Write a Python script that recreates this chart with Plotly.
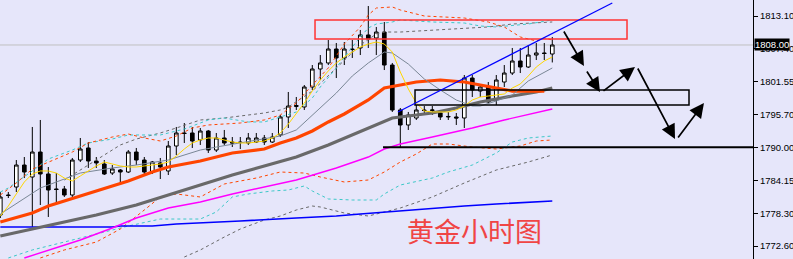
import plotly.graph_objects as go

# ---------------- candle data (hourly gold) ----------------
opens = [1778.06, 1781.58, 1782.99, 1786.86, 1784.75, 1789.15, 1785.28, 1782.64, 1782.64, 1781.58,
         1787.74, 1789.86, 1787.57, 1787.04, 1785.45, 1785.98, 1785.63, 1789.15, 1787.74, 1785.63,
         1787.22, 1785.81, 1790.21, 1792.50, 1792.50, 1791.27, 1792.85, 1789.50, 1791.62, 1790.91,
         1790.91, 1790.74, 1790.91, 1791.62, 1790.91, 1792.15, 1795.32, 1797.16, 1797.08, 1800.60,
         1803.77, 1804.83, 1807.29, 1805.71, 1807.29, 1807.47, 1809.76, 1809.23, 1810.28, 1804.47,
         1796.55, 1793.91, 1795.14, 1796.55, 1796.46, 1796.02, 1795.32, 1795.32, 1795.14, 1802.18,
         1799.89, 1800.60, 1798.31, 1801.48, 1803.06, 1805.18, 1804.12, 1806.23, 1806.59, 1806.41]
highs = [1782.11, 1782.11, 1787.74, 1788.27, 1793.56, 1794.79, 1786.51, 1785.45, 1783.17, 1788.10,
         1791.62, 1790.91, 1788.27, 1787.74, 1786.86, 1786.16, 1789.50, 1789.86, 1788.27, 1787.57,
         1788.10, 1791.09, 1793.56, 1794.26, 1793.56, 1793.38, 1793.03, 1792.50, 1793.03, 1791.79,
         1791.79, 1792.50, 1792.50, 1792.15, 1792.50, 1795.67, 1799.72, 1798.84, 1800.95, 1804.47,
         1806.23, 1808.88, 1808.35, 1808.52, 1808.88, 1810.64, 1814.86, 1811.17, 1812.05, 1804.83,
         1796.90, 1796.20, 1797.43, 1797.25, 1797.25, 1796.55, 1796.20, 1796.02, 1802.71, 1802.71,
         1800.95, 1801.48, 1802.71, 1804.47, 1807.47, 1807.47, 1807.99, 1808.35, 1808.35, 1809.41]
lows = [1777.53, 1781.05, 1782.11, 1784.57, 1775.95, 1779.82, 1777.71, 1780.17, 1781.23, 1781.23,
        1787.39, 1786.34, 1786.34, 1785.10, 1785.10, 1783.87, 1785.45, 1786.86, 1784.93, 1785.28,
        1784.40, 1785.10, 1788.62, 1790.74, 1789.86, 1790.39, 1788.98, 1789.15, 1790.39, 1790.03,
        1789.68, 1790.39, 1790.74, 1790.39, 1790.74, 1791.79, 1793.38, 1796.55, 1796.55, 1800.07,
        1801.83, 1804.47, 1802.18, 1804.47, 1805.71, 1806.23, 1807.47, 1806.23, 1803.59, 1796.20,
        1790.03, 1793.03, 1794.79, 1795.67, 1795.67, 1794.79, 1794.79, 1793.91, 1793.38, 1798.84,
        1798.84, 1797.78, 1797.43, 1800.60, 1802.71, 1803.06, 1803.95, 1805.35, 1805.35, 1804.92]
closes = [1781.23, 1781.50, 1786.86, 1785.63, 1789.15, 1785.28, 1782.46, 1782.55, 1781.58, 1787.74,
          1789.68, 1787.57, 1787.22, 1785.28, 1786.16, 1785.63, 1789.15, 1787.74, 1785.63, 1787.39,
          1786.51, 1790.21, 1792.50, 1792.41, 1791.09, 1792.85, 1789.50, 1791.62, 1790.74, 1790.74,
          1790.82, 1791.62, 1791.62, 1790.91, 1791.79, 1795.32, 1797.25, 1797.34, 1800.60, 1803.77,
          1804.83, 1807.29, 1805.71, 1807.29, 1807.20, 1809.76, 1809.05, 1810.28, 1804.47, 1796.55,
          1793.91, 1795.67, 1796.55, 1796.46, 1796.55, 1795.32, 1795.41, 1795.14, 1802.18, 1800.07,
          1800.60, 1797.96, 1801.83, 1803.06, 1805.18, 1804.12, 1806.23, 1806.59, 1806.50, 1808.00]
bars = list(range(len(closes)))

# ---------------- indicator lines ----------------
yellow_ma = [1777.88, 1779.64, 1781.76, 1783.87, 1785.28, 1785.81, 1785.81, 1785.45, 1784.57, 1784.05,
             1784.93, 1785.81, 1786.69, 1787.39, 1787.04, 1786.69, 1786.51, 1786.51, 1786.69, 1786.86,
             1787.04, 1787.39, 1788.45, 1789.68, 1790.74, 1791.27, 1791.62, 1791.62, 1791.27, 1790.91,
             1790.74, 1790.74, 1790.91, 1791.09, 1791.62, 1792.50, 1794.08, 1795.85, 1797.78, 1799.89,
             1801.83, 1803.42, 1804.83, 1805.88, 1806.76, 1807.64, 1808.17, 1808.52, 1808.17, 1806.76,
             1803.24, 1800.25, 1797.78, 1796.37, 1796.20, 1796.20, 1796.20, 1796.55, 1797.25, 1798.31,
             1798.84, 1799.01, 1799.19, 1799.37, 1800.42, 1801.13, 1802.54, 1804.12, 1805.18, 1805.88]

gray_ma_idx = [0, 3, 5, 8, 10, 14, 17, 21, 25, 27, 30, 33, 35, 37, 40, 42, 44, 46, 48, 49, 51, 53, 55,
               57, 59, 60, 62, 64, 66, 69]
gray_ma = [1778.23, 1781.05, 1782.81, 1784.40, 1785.45, 1786.34, 1786.86, 1787.74, 1789.50, 1790.03,
           1790.74, 1791.44, 1791.97, 1793.03, 1796.90, 1799.54, 1802.54, 1804.83, 1806.76, 1806.59,
           1804.65, 1802.01, 1800.07, 1798.31, 1797.25, 1797.25, 1798.14, 1799.19, 1801.66, 1803.95]

orange_ma_idx = [0, 4, 6, 8, 11, 14, 16, 19, 21, 25, 29, 33, 35, 37, 39, 41, 43, 46, 48, 50, 52, 55,
                 58, 60, 62, 64, 68]
orange_ma = [1776.83, 1778.41, 1779.64, 1780.52, 1781.76, 1783.17, 1784.05, 1785.63, 1786.51, 1787.57,
             1788.98, 1789.68, 1790.74, 1791.62, 1792.85, 1794.44, 1795.85, 1798.31, 1800.42, 1800.95,
             1801.48, 1801.83, 1801.48, 1800.95, 1800.42, 1799.89, 1799.89]

dgray_ma_idx = [0, 4, 8, 12, 17, 21, 25, 29, 33, 37, 41, 46, 49, 52, 54, 57, 60, 64, 67, 69]
dgray_ma = [1774.36, 1775.59, 1776.83, 1778.06, 1779.82, 1781.58, 1783.34, 1785.10, 1786.69, 1788.27,
            1790.39, 1793.38, 1795.14, 1795.67, 1796.02, 1796.90, 1797.96, 1799.01, 1799.72, 1800.42]

magenta_ma_idx = [3, 6, 10, 14, 17, 21, 25, 29, 33, 37, 42, 46, 48, 50, 54, 59, 63, 69]
magenta_ma = [1770.49, 1771.90, 1773.66, 1775.77, 1777.53, 1779.29, 1780.35, 1781.76, 1782.99, 1784.22,
              1786.34, 1788.27, 1789.68, 1790.56, 1791.79, 1793.38, 1794.79, 1796.73]

blue_ma_idx = [0, 14, 15, 19, 22, 25, 30, 37, 42, 45, 50, 54, 58, 62, 66, 69]
blue_ma = [1775.94, 1775.94, 1776.12, 1776.12, 1776.47, 1776.65, 1777.00, 1777.53, 1777.88, 1778.23,
           1778.76, 1779.29, 1779.64, 1779.99, 1780.35, 1780.52]

orange_up_idx = [0, 2, 4, 6, 9, 11, 14, 16, 18, 20, 22, 24, 26, 30, 33, 35, 37, 39, 41, 43, 45, 46, 47,
                 49, 50, 53, 58, 61, 63, 65, 67, 68, 69]
orange_up = [1781.58, 1783.69, 1786.16, 1787.39, 1789.15, 1790.74, 1791.79, 1792.32, 1791.62, 1791.09,
             1791.97, 1793.38, 1793.91, 1794.26, 1794.79, 1795.67, 1797.78, 1800.95, 1803.95, 1808.17,
             1811.17, 1813.28, 1814.51, 1814.69, 1814.16, 1813.10, 1812.75, 1812.05, 1811.17, 1809.41,
             1808.70, 1809.23, 1808.88]

orange_dn_idx = [5, 8, 12, 15, 18, 20, 22, 25, 28, 32, 35, 38, 40, 43, 46, 48, 50, 52, 54, 56, 59, 62,
                 65, 67, 69]
orange_dn = [1770.49, 1771.90, 1773.30, 1775.59, 1778.94, 1781.23, 1781.76, 1781.23, 1783.52, 1784.57,
             1785.63, 1785.45, 1784.75, 1783.87, 1784.22, 1785.63, 1787.39, 1788.80, 1790.56, 1790.56,
             1790.03, 1789.68, 1790.21, 1791.09, 1791.27]

cyan_up_idx = [0, 1, 4, 6, 9, 11, 14, 16, 20, 23, 26, 28, 31, 33, 35, 37, 39, 40, 42, 43, 45, 46, 47,
               49, 50, 54, 58, 60, 62, 66, 69]
cyan_up = [1782.11, 1782.81, 1785.81, 1787.92, 1789.50, 1790.74, 1791.44, 1792.15, 1792.15, 1793.20,
           1794.79, 1795.14, 1794.44, 1794.44, 1795.32, 1796.20, 1798.66, 1800.60, 1803.95, 1805.88,
           1809.41, 1810.99, 1811.69, 1812.05, 1812.40, 1812.05, 1811.87, 1811.34, 1811.17, 1811.69,
           1812.40]

cyan_dn_idx = [1, 4, 8, 12, 16, 20, 25, 27, 29, 31, 34, 36, 38, 39, 41, 44, 47, 48, 50, 54, 56, 59,
               62, 64, 66, 69]
cyan_dn = [1770.49, 1771.90, 1773.30, 1774.71, 1776.12, 1777.35, 1777.35, 1778.59, 1781.23, 1781.76,
           1782.29, 1782.46, 1783.17, 1782.29, 1780.88, 1780.70, 1780.70, 1781.76, 1783.34, 1784.57,
           1785.63, 1786.86, 1788.98, 1790.91, 1791.62, 1791.97]

gray_up_idx = [8, 10, 12, 15, 17, 20, 22, 25, 28, 31, 33, 35, 36, 39, 42, 45, 47, 48, 50, 54, 58, 61,
               64, 67, 69]
gray_up = [1784.22, 1785.98, 1787.74, 1790.39, 1791.44, 1792.50, 1793.38, 1794.79, 1795.14, 1795.67,
           1796.02, 1796.55, 1797.08, 1799.89, 1803.95, 1807.99, 1809.93, 1810.28, 1810.28, 1810.64,
           1810.99, 1811.17, 1811.69, 1811.87, 1812.05]

gray_dn_idx = [23, 25, 28, 30, 33, 35, 37, 39, 40, 42, 43, 46, 48, 50, 54, 58, 62, 66, 69]
gray_dn = [1770.66, 1771.90, 1774.18, 1775.59, 1777.18, 1777.88, 1778.94, 1779.64, 1779.47, 1778.76,
           1778.41, 1777.88, 1778.59, 1779.29, 1781.23, 1783.69, 1785.98, 1787.39, 1788.63]

# axis labels
tick_vals = [1813.10, 1807.40, 1801.55, 1795.70, 1790.00, 1784.15, 1778.30, 1772.60]
tick_text = ["1813.10", "1807.40", "1801.55", "1795.70", "1790.00", "1784.15", "1778.30", "1772.60"]
last_price = 1808.00
support_level = 1790.00
title_text = "黄金小时图"

# analyst drawings (in bar-index / price units)
red_box = (39.34, 78.34, 1809.05, 1812.40)
black_box = (51.84, 86.09, 1797.43, 1800.07)
trend_line = ((49.7, 1796.20), (76.5, 1815.39))
support_start = 47.84
arrow_path = [((70.34, 1810.64), (72.96, 1804.30)),
              ((73.21, 1803.59), (74.96, 1799.72)),
              ((75.21, 1799.72), (79.34, 1804.12)),
              ((79.59, 1804.12), (84.34, 1791.44)),
              ((84.59, 1791.44), (87.96, 1797.78))]

BG = "#E6E6FA"
X_RANGE = [-0.04, 94.09]
Y_RANGE = [1770.31, 1815.92]

fig = go.Figure()


def add_line(xs, ys, color, width, dash=None):
    fig.add_trace(go.Scatter(x=xs, y=ys, mode="lines",
                             line=dict(color=color, width=width, dash=dash),
                             hoverinfo="skip", showlegend=False))


DASH = "3px,3px"
add_line(gray_dn_idx, gray_dn, "#696969", 1, DASH)
add_line(gray_up_idx, gray_up, "#696969", 1, DASH)
add_line(cyan_dn_idx, cyan_dn, "#3CC8C8", 1, DASH)
add_line(cyan_up_idx, cyan_up, "#3CC8C8", 1, DASH)
add_line(orange_dn_idx, orange_dn, "#FF4500", 1, DASH)
add_line(orange_up_idx, orange_up, "#FF4500", 1, DASH)
add_line(blue_ma_idx, blue_ma, "#0000FF", 1.6)
add_line(magenta_ma_idx, magenta_ma, "#FF00FF", 1.4)
add_line(dgray_ma_idx, dgray_ma, "#696969", 3.2)
add_line(orange_ma_idx, orange_ma, "#FF4500", 3.2)
add_line(gray_ma_idx, gray_ma, "#7A8796", 1)
add_line(bars, yellow_ma, "#FFD700", 1)

fig.add_trace(go.Candlestick(
    x=bars, open=opens, high=highs, low=lows, close=closes,
    increasing=dict(line=dict(color="black", width=1), fillcolor="white"),
    decreasing=dict(line=dict(color="black", width=1), fillcolor="black"),
    whiskerwidth=0, hoverinfo="skip", showlegend=False))

shapes = [
    dict(type="line", xref="x", yref="y", x0=X_RANGE[0], x1=X_RANGE[1], y0=last_price, y1=last_price,
         line=dict(color="#C0C0C0", width=1), layer="below"),
    dict(type="rect", xref="x", yref="y", x0=red_box[0], x1=red_box[1], y0=red_box[2], y1=red_box[3],
         line=dict(color="#FF3333", width=1.5)),
    dict(type="rect", xref="x", yref="y", x0=black_box[0], x1=black_box[1], y0=black_box[2], y1=black_box[3],
         line=dict(color="black", width=1.5)),
    dict(type="line", xref="x", yref="y", x0=trend_line[0][0], y0=trend_line[0][1],
         x1=trend_line[1][0], y1=trend_line[1][1], line=dict(color="#0000FF", width=1.2)),
    dict(type="line", xref="x", yref="y", x0=support_start, x1=X_RANGE[1], y0=support_level, y1=support_level,
         line=dict(color="black", width=2)),
]

annotations = []
for (tx, ty), (hx, hy) in arrow_path:
    annotations.append(dict(x=hx, y=hy, ax=tx, ay=ty, xref="x", yref="y", axref="x", ayref="y",
                            text="", showarrow=True, arrowhead=2, arrowsize=1.7, arrowwidth=1.7,
                            arrowcolor="black", standoff=0, startstandoff=0))

annotations.append(dict(x=59.3, y=1775.3, xref="x", yref="y", text=title_text, showarrow=False,
                        font=dict(family="Noto Sans CJK SC", size=27, color="#F04545")))
annotations.append(dict(x=1.0, y=last_price, xref="paper", yref="y", xanchor="left", yanchor="middle",
                        xshift=1, text=f"{last_price:.2f}", showarrow=False, bgcolor="black",
                        borderpad=0, font=dict(family="Liberation Sans", size=9.5, color="white")))

fig.update_layout(
    width=793, height=259,
    margin=dict(l=0, r=40, t=0, b=0, autoexpand=False),
    paper_bgcolor=BG, plot_bgcolor=BG,
    boxgap=0.35,
    shapes=shapes, annotations=annotations,
    xaxis=dict(range=X_RANGE, visible=False, rangeslider=dict(visible=False), fixedrange=True),
    yaxis=dict(range=Y_RANGE, side="right", tickvals=tick_vals, ticktext=tick_text,
               ticks="outside", ticklen=4, tickcolor="black", showline=True, linecolor="black",
               linewidth=1, showgrid=False, zeroline=False, automargin=False,
               tickfont=dict(family="Liberation Sans", size=9.5, color="black")),
    showlegend=False,
)

fig.write_html("out.html")
